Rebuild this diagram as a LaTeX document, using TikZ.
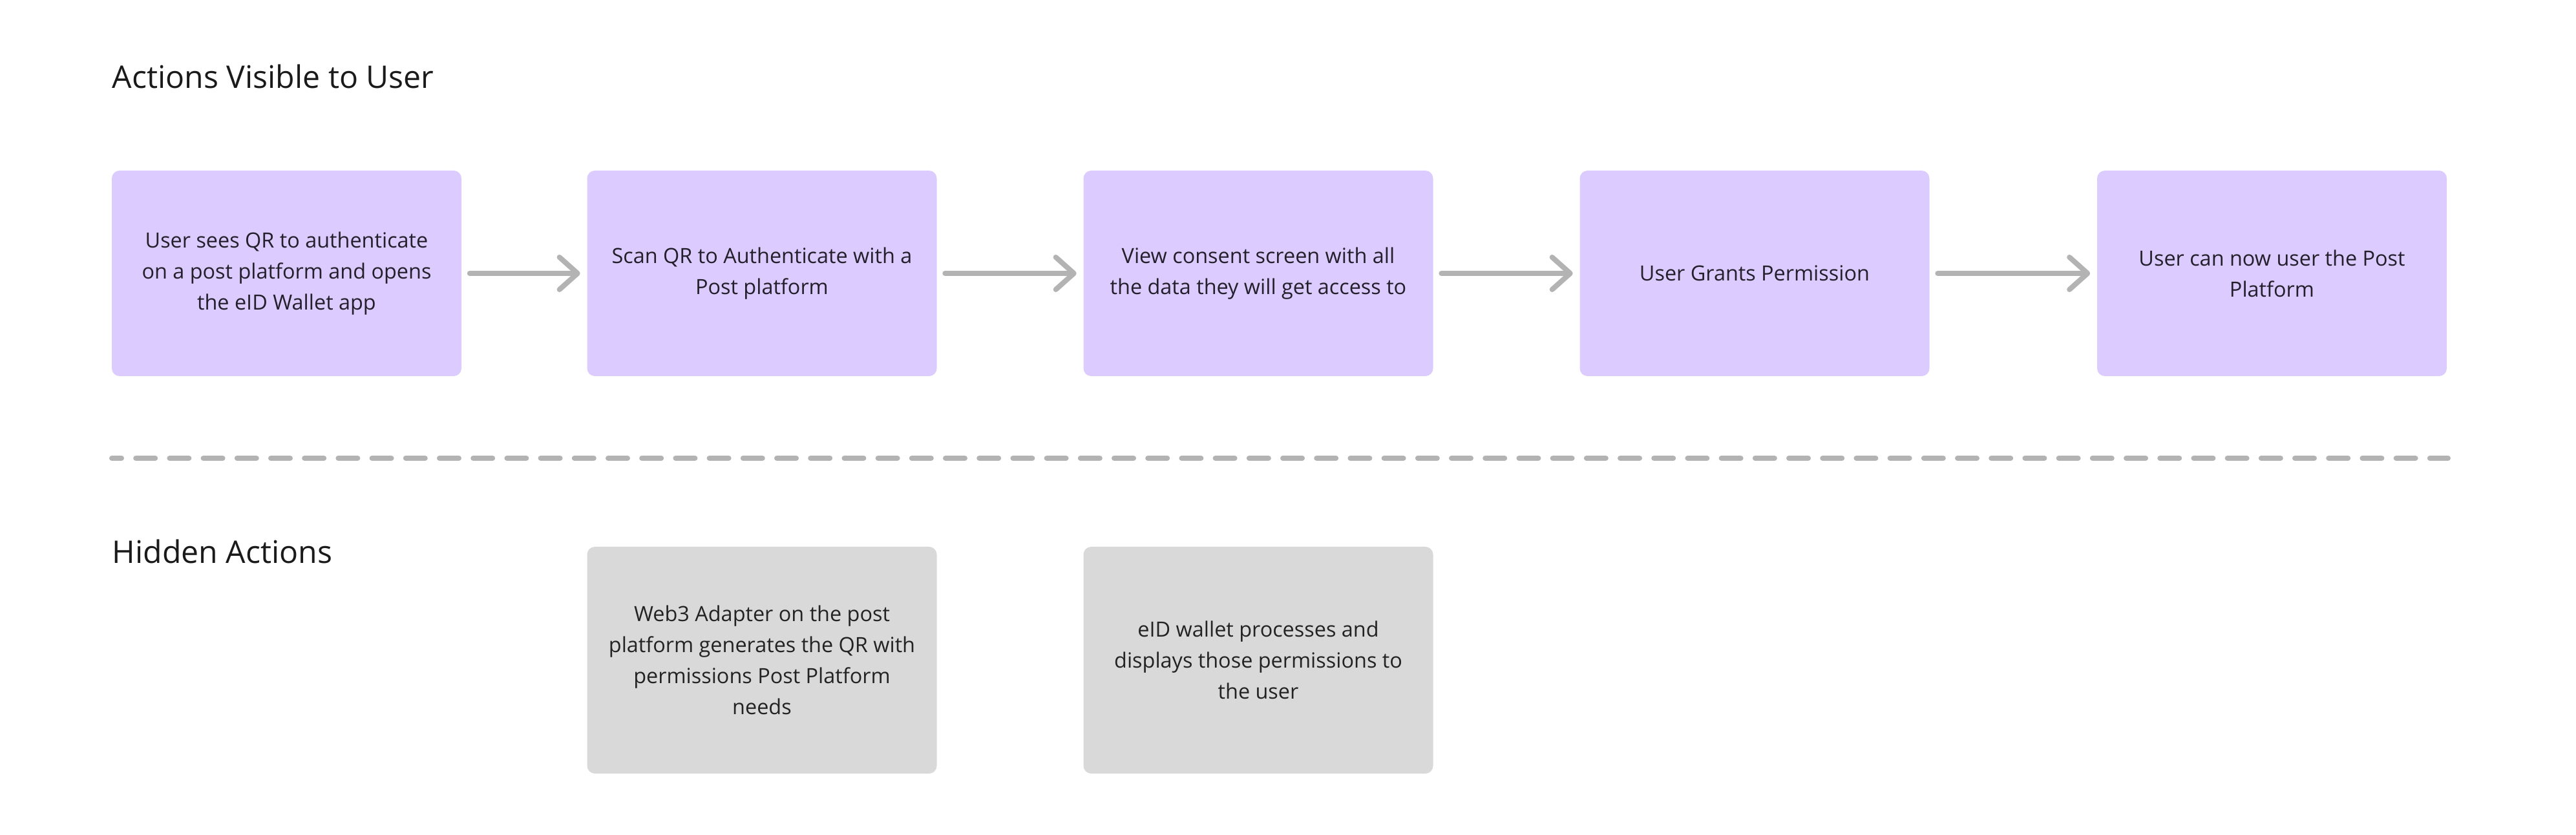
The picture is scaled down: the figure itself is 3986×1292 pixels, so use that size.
\documentclass[tikz,border=0pt]{standalone}
\usepackage{fontspec}
\setmainfont{Open Sans}
\usetikzlibrary{arrows.meta}
\definecolor{purplefill}{HTML}{DCCBFE}
\definecolor{grayfill}{HTML}{D9D9D9}
\definecolor{linegray}{HTML}{B3B3B3}
\definecolor{ptext}{HTML}{231F2B}
\definecolor{gtext}{HTML}{232323}
\definecolor{titletext}{HTML}{1A1A1A}
\tikzset{
  stepbox/.style={rectangle, rounded corners=3pt, fill=purplefill, draw=none,
    minimum width=135.25pt, minimum height=79.5pt, align=center, text=ptext,
    font=\fontsize{8.1}{12}\selectfont, inner sep=0pt},
  hiddenbox/.style={rectangle, rounded corners=3pt, fill=grayfill, draw=none,
    minimum width=135.25pt, minimum height=87.75pt, align=center, text=gtext,
    font=\fontsize{8.1}{12}\selectfont, inner sep=0pt},
  heading/.style={anchor=base west, inner sep=0pt, text=titletext,
    font=\fontsize{12.05}{15}\selectfont},
  flow/.style={draw=linegray, line width=2pt, line cap=round,
    -{Straight Barb[length=7pt, width=12.5pt, line cap=round, line join=round]}},
  divider/.style={draw=linegray, line width=2pt, line cap=round,
    dash pattern=on 7.5pt off 5.55pt, dash phase=3.75pt}
}
\begin{document}
\begin{tikzpicture}[x=0.25pt, y=-0.25pt]
\useasboundingbox (0,0) rectangle (3986,1292);
\node[heading] (t1) at (173,137) {Actions Visible to User};
\node[heading] (t2) at (173,872) {Hidden Actions};

\node[stepbox] (b1) at (443.5,423) {User sees QR to authenticate\\on a post platform and opens\\the eID Wallet app};
\node[stepbox] (b2) at (1179,423) {Scan QR to Authenticate with a\\Post platform};
\node[stepbox] (b3) at (1947,423) {View consent screen with all\\the data they will get access to};
\node[stepbox] (b4) at (2715,423) {User Grants Permission};
\node[stepbox] (b5) at (3515.5,423) {User can now user the Post\\Platform};

\draw[flow] ([xshift=3pt]b1.east) -- ([xshift=-2.5pt]b2.west);
\draw[flow] ([xshift=3pt]b2.east) -- ([xshift=-2.5pt]b3.west);
\draw[flow] ([xshift=3pt]b3.east) -- ([xshift=-2.5pt]b4.west);
\draw[flow] ([xshift=3pt]b4.east) -- ([xshift=-2.5pt]b5.west);

\coordinate (d1) at (173,709);
\coordinate (d2) at (3788,709);
\draw[divider] (d1) -- (d2);

\node[hiddenbox] (h1) at (1179,1021.5) {Web3 Adapter on the post\\platform generates the QR with\\permissions Post Platform\\needs};
\node[hiddenbox] (h2) at (1947,1021.5) {eID wallet processes and\\displays those permissions to\\the user};
\end{tikzpicture}
\end{document}
